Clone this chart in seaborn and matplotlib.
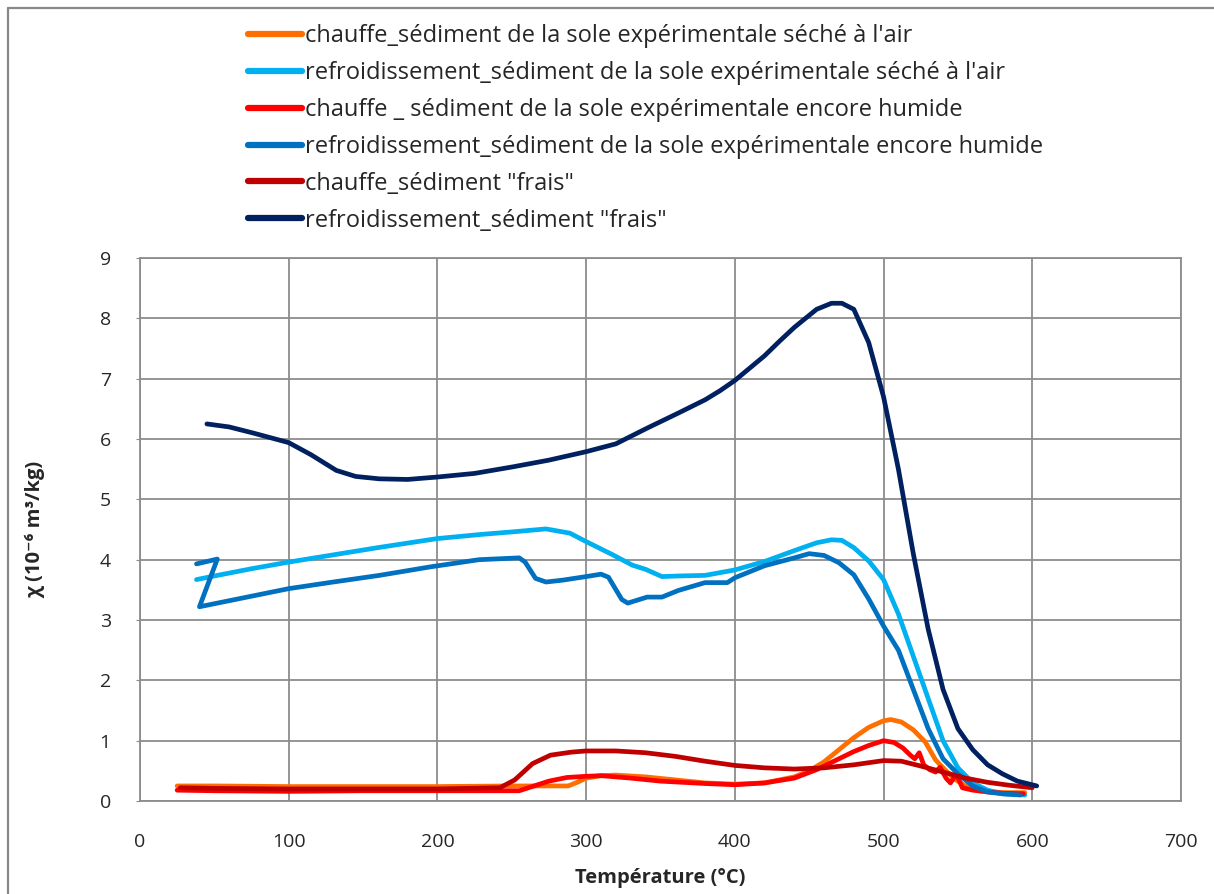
import numpy as np
import pandas as pd
import seaborn as sns
import matplotlib.pyplot as plt
from matplotlib.lines import Line2D

# series: temperature (°C) and susceptibility (1e-6 m3/kg)
labels = [
    "chauffe_sédiment de la sole expérimentale séché à l'air",
    "refroidissement_sédiment de la sole expérimentale séché à l'air",
    "chauffe _ sédiment de la sole expérimentale encore humide",
    "refroidissement_sédiment de la sole expérimentale encore humide",
    'chauffe_sédiment "frais"',
    'refroidissement_sédiment "frais"',
]
colors = ['#FF6F00', '#00B0F0', '#FF0000', '#0070C0', '#C00000', '#002060']

orange_t = [25, 50, 100, 150, 200, 250, 275, 288, 295, 300, 310, 320, 340, 360, 380, 400, 420, 440, 450, 460,
            470, 480, 490, 500, 505, 512, 520, 528, 535, 542, 548, 555, 565, 580, 595]
orange_chi = [0.25, 0.25, 0.24, 0.24, 0.24, 0.25, 0.25, 0.25, 0.32, 0.38, 0.42, 0.43, 0.4, 0.35, 0.3, 0.28, 0.3,
              0.4, 0.5, 0.65, 0.85, 1.05, 1.22, 1.33, 1.35, 1.31, 1.18, 0.98, 0.68, 0.5, 0.36, 0.25, 0.17, 0.14, 0.14]

lblue_t = [38, 50, 75, 100, 130, 160, 200, 230, 250, 273, 289, 300, 318, 331, 340, 351, 362, 380, 400, 420, 440,
           455, 465, 472, 480, 490, 500, 510, 520, 530, 540, 550, 560, 570, 580, 595]
lblue_chi = [3.67, 3.73, 3.85, 3.96, 4.08, 4.2, 4.35, 4.42, 4.46, 4.51, 4.44, 4.3, 4.08, 3.91, 3.84, 3.72, 3.73,
             3.74, 3.83, 3.97, 4.15, 4.28, 4.33, 4.32, 4.2, 3.98, 3.67, 3.1, 2.4, 1.7, 1.0, 0.55, 0.3, 0.18, 0.12, 0.1]

red_t = [25, 50, 100, 150, 200, 240, 255, 265, 275, 287, 300, 310, 330, 350, 380, 400, 420, 440, 455, 470, 480,
         490, 500, 507, 513, 518, 521, 524, 527, 531, 535, 538, 542, 545, 549, 553, 560, 570, 580, 594]
red_chi = [0.18, 0.17, 0.16, 0.17, 0.17, 0.17, 0.17, 0.25, 0.33, 0.39, 0.41, 0.42, 0.38, 0.33, 0.29, 0.27, 0.3,
           0.38, 0.52, 0.7, 0.82, 0.92, 1.0, 0.97, 0.88, 0.76, 0.7, 0.8, 0.6, 0.52, 0.48, 0.56, 0.38, 0.3, 0.45, 0.22,
           0.18, 0.15, 0.13, 0.12]

mblue_t = [38, 52, 40, 70, 100, 130, 161, 195, 228, 255, 259, 266, 273, 284, 300, 310, 315, 324, 328, 341, 351,
           362, 380, 395, 400, 420, 440, 450, 460, 470, 480, 490, 500, 510, 520, 530, 540, 550, 560, 570, 580, 592]
mblue_chi = [3.93, 4.01, 3.22, 3.37, 3.52, 3.63, 3.74, 3.88, 4.0, 4.03, 3.96, 3.69, 3.63, 3.66, 3.72, 3.76, 3.71,
             3.34, 3.28, 3.38, 3.38, 3.49, 3.62, 3.62, 3.7, 3.9, 4.03, 4.1, 4.07, 3.95, 3.75, 3.35, 2.9, 2.5, 1.85,
             1.2, 0.7, 0.45, 0.25, 0.15, 0.12, 0.1]

dred_t = [27, 50, 100, 150, 200, 242, 252, 264, 276, 290, 300, 320, 340, 360, 380, 400, 420, 440, 460, 480, 500,
          512, 525, 540, 555, 570, 585, 600]
dred_chi = [0.22, 0.21, 0.2, 0.2, 0.2, 0.22, 0.35, 0.62, 0.76, 0.81, 0.83, 0.83, 0.8, 0.74, 0.66, 0.59, 0.55, 0.53,
            0.55, 0.6, 0.67, 0.66, 0.58, 0.48, 0.38, 0.31, 0.26, 0.22]

navy_t = [45, 60, 76, 100, 115, 132, 145, 161, 180, 200, 225, 251, 275, 300, 320, 341, 362, 380, 390, 400, 420,
          430, 440, 455, 465, 472, 480, 490, 500, 510, 520, 530, 540, 550, 560, 570, 580, 590, 603]
navy_chi = [6.25, 6.2, 6.1, 5.94, 5.74, 5.48, 5.38, 5.34, 5.33, 5.37, 5.43, 5.54, 5.65, 5.79, 5.92, 6.18, 6.43,
            6.65, 6.8, 6.97, 7.38, 7.62, 7.85, 8.15, 8.25, 8.25, 8.15, 7.6, 6.7, 5.5, 4.1, 2.85, 1.85, 1.2, 0.85,
            0.6, 0.45, 0.33, 0.25]

all_t = [orange_t, lblue_t, red_t, mblue_t, dred_t, navy_t]
all_chi = [orange_chi, lblue_chi, red_chi, mblue_chi, dred_chi, navy_chi]

frames = []
for lab, t, c in zip(labels, all_t, all_chi):
    frames.append(pd.DataFrame({'T': t, 'chi': c, 'serie': lab}))
df = pd.concat(frames, ignore_index=True)

sns.set_style('white')
plt.rcParams['font.family'] = ['Open Sans', 'DejaVu Sans']

fig = plt.figure(figsize=(12.14, 8.94), dpi=100)
ax = fig.add_axes([0.1153, 0.104, 0.8575, 0.6074])

sns.lineplot(data=df, x='T', y='chi', hue='serie', palette=colors, hue_order=labels,
             sort=False, estimator=None, units='serie', lw=3.4, ax=ax, legend=True)
for ln in ax.lines:
    ln.set_solid_capstyle('round')
    ln.set_solid_joinstyle('round')

ax.set_xlim(0, 700)
ax.set_ylim(0, 9)
ax.set_xticks(range(0, 701, 100))
ax.set_yticks(range(0, 10))
ax.grid(True, color='#8c8c8c', lw=1.3)
ax.set_axisbelow(True)
for s in ax.spines.values():
    s.set_color('#8c8c8c')
    s.set_linewidth(1.3)
ax.tick_params(axis='x', length=0, pad=23, labelsize=14)
ax.tick_params(axis='y', length=3, color='#8c8c8c', pad=18, labelsize=14, left=True)

ax.set_xlabel('Température (°C)', fontsize=14.5, fontweight='bold')
ax.set_ylabel('χ (10⁻⁶ m³/kg)', fontsize=14.5, fontweight='bold')
ax.xaxis.set_label_coords(0.5, -0.124)
ax.yaxis.set_label_coords(-0.091, 0.5)

handles, labs = ax.get_legend_handles_labels()
ax.get_legend().remove()
leg = fig.legend(handles, labs, loc='upper left', bbox_to_anchor=(236 / 1214, 1 - 12 / 894),
                 frameon=False, fontsize=17, handlelength=2.3, handletextpad=0.12,
                 labelspacing=0.55, borderpad=0)
for h in leg.get_lines():
    h.set_linewidth(4.5)

# outer chart border (left and top visible)
fig.add_artist(Line2D([8 / 1214, 8 / 1214], [0, 1 - 8 / 894], transform=fig.transFigure, color='#888888', lw=1.6))
fig.add_artist(Line2D([8 / 1214, 1], [1 - 8 / 894, 1 - 8 / 894], transform=fig.transFigure, color='#888888', lw=1.6))

fig.savefig('out.png', dpi=100)
